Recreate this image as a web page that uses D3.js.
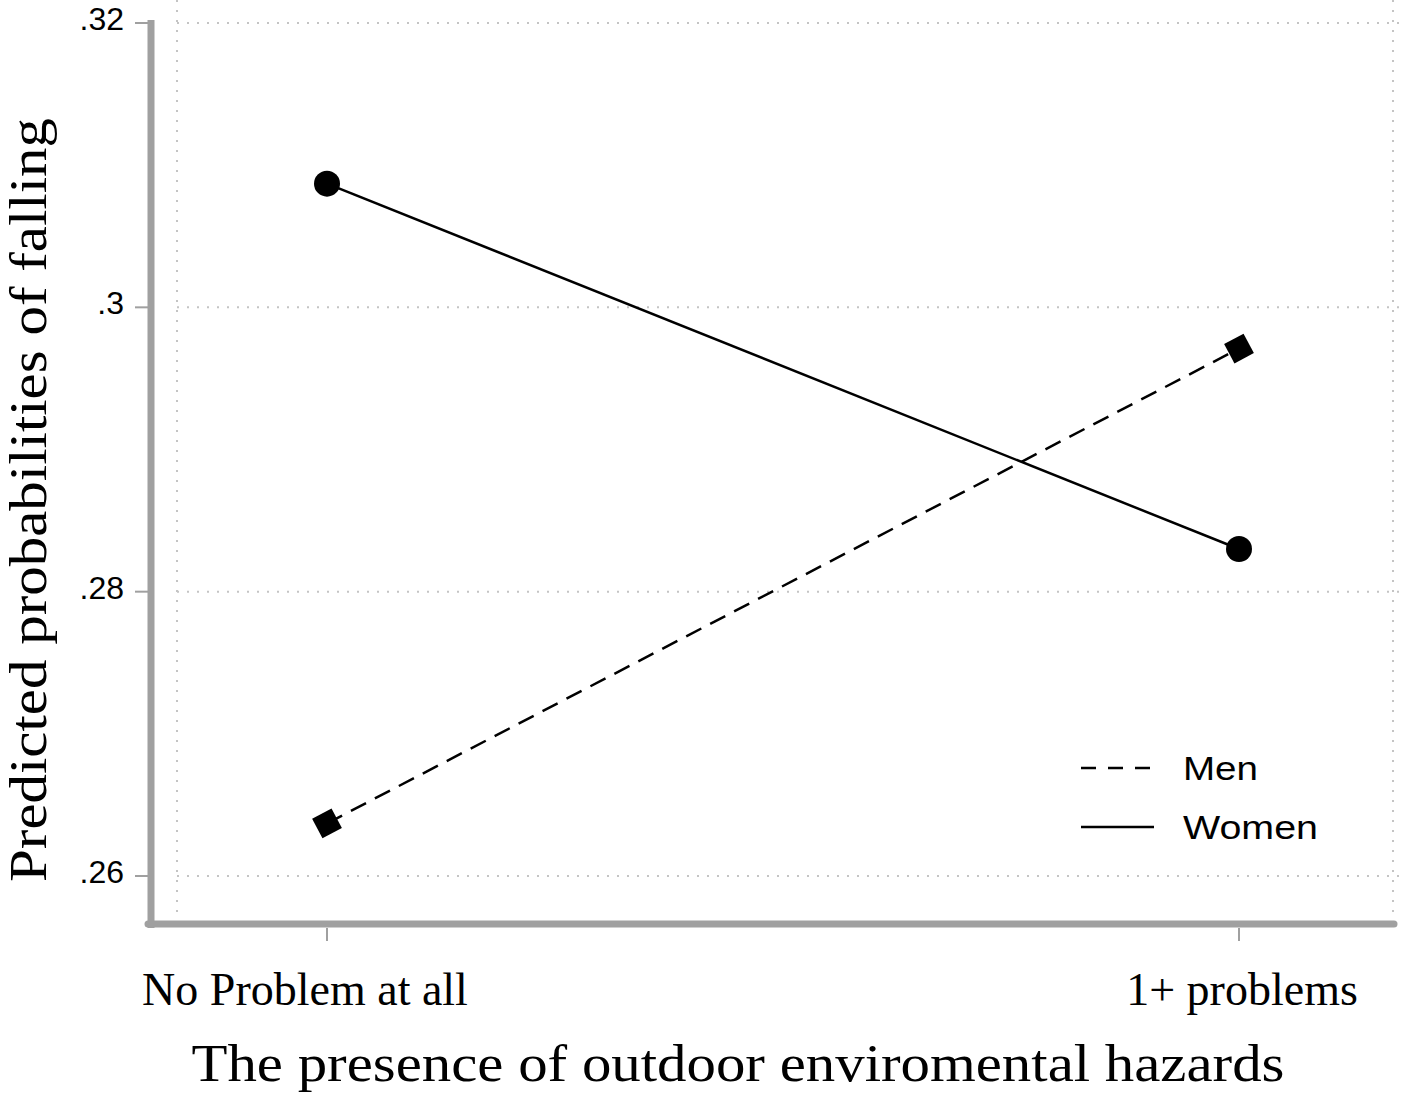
<!DOCTYPE html>
<html>
<head>
<meta charset="utf-8">
<script src="https://cdn.jsdelivr.net/npm/d3@7"></script>
<style>
  body { margin: 0; background: #fff; }
  svg { display: block; }
</style>
</head>
<body>
<div id="chart"></div>
<script>
// data
const categories = ["No Problem at all", "1+ problems"];
const menValues = [0.2637, 0.2971];
const womenValues = [0.3087, 0.2830];
const yTicks = [0.26, 0.28, 0.30, 0.32];
const yTickLabels = [".26", ".28", ".3", ".32"];

const width = 1418, height = 1096;
const axisGray = "#a0a0a0";
const gridGray = "#c4c4c4";

const svg = d3.select("#chart").append("svg")
    .attr("width", width)
    .attr("height", height);

const x = d3.scalePoint()
    .domain(categories)
    .range([327, 1239]);

const y = d3.scaleLinear()
    .domain([0.26, 0.32])
    .range([876, 23]);

// dotted grid
svg.append("g").selectAll("line.hgrid")
    .data(yTicks)
    .enter().append("line")
    .attr("x1", 177).attr("x2", 1400)
    .attr("y1", d => y(d)).attr("y2", d => y(d))
    .style("stroke", gridGray)
    .style("stroke-width", 2)
    .style("stroke-dasharray", "2,8");

svg.append("g").selectAll("line.vgrid")
    .data([177, 1393])
    .enter().append("line")
    .attr("x1", d => d).attr("x2", d => d)
    .attr("y1", 0).attr("y2", 915)
    .style("stroke", gridGray)
    .style("stroke-width", 2)
    .style("stroke-dasharray", "2,8");

// axes
svg.append("line")
    .attr("x1", 151).attr("x2", 151)
    .attr("y1", 20).attr("y2", 928)
    .style("stroke", axisGray).style("stroke-width", 7);
svg.append("line")
    .attr("x1", 148).attr("x2", 1394)
    .attr("y1", 924).attr("y2", 924)
    .style("stroke", axisGray).style("stroke-width", 7).style("stroke-linecap", "round");

// y ticks
svg.append("g").selectAll("line")
    .data(yTicks)
    .enter().append("line")
    .attr("x1", 135).attr("x2", 148)
    .attr("y1", d => y(d)).attr("y2", d => y(d))
    .style("stroke", axisGray).style("stroke-width", 2);

svg.append("g").selectAll("text")
    .data(yTicks)
    .enter().append("text")
    .attr("x", 124)
    .attr("y", d => y(d) + 7)
    .attr("text-anchor", "end")
    .style("font-family", "Liberation Sans, Arial, sans-serif")
    .style("font-size", "32px")
    .text((d, i) => yTickLabels[i]);

// x ticks
svg.append("g").selectAll("line")
    .data(categories)
    .enter().append("line")
    .attr("x1", d => x(d)).attr("x2", d => x(d))
    .attr("y1", 928).attr("y2", 941)
    .style("stroke", axisGray).style("stroke-width", 2);

const xLabelShift = [-22, 3];
svg.append("g").selectAll("text")
    .data(categories)
    .enter().append("text")
    .attr("x", (d, i) => x(d) + xLabelShift[i])
    .attr("y", 1005)
    .attr("text-anchor", "middle")
    .style("font-family", "Liberation Serif, Times New Roman, serif")
    .style("font-size", "46px")
    .text(d => d);

// axis titles
svg.append("text")
    .attr("x", 738).attr("y", 1081)
    .attr("text-anchor", "middle")
    .attr("textLength", 1093)
    .attr("lengthAdjust", "spacingAndGlyphs")
    .style("font-family", "Liberation Serif, Times New Roman, serif")
    .style("font-size", "53px")
    .text("The presence of outdoor enviromental hazards");

svg.append("text")
    .attr("transform", "translate(46,500) rotate(-90)")
    .attr("text-anchor", "middle")
    .attr("textLength", 764)
    .attr("lengthAdjust", "spacingAndGlyphs")
    .style("font-family", "Liberation Serif, Times New Roman, serif")
    .style("font-size", "52px")
    .text("Predicted probabilities of falling");

// lines
const line = d3.line()
    .x((d, i) => x(categories[i]))
    .y(d => y(d));

svg.append("path")
    .datum(womenValues)
    .attr("d", line)
    .style("fill", "none")
    .style("stroke", "#000")
    .style("stroke-width", 2.5);

svg.append("path")
    .datum(menValues)
    .attr("d", line)
    .style("fill", "none")
    .style("stroke", "#000")
    .style("stroke-width", 2.5)
    .style("stroke-dasharray", "17,10");

// markers
svg.append("g").selectAll("circle")
    .data(womenValues)
    .enter().append("circle")
    .attr("cx", (d, i) => x(categories[i]))
    .attr("cy", d => y(d))
    .attr("r", 13)
    .style("fill", "#000");

svg.append("g").selectAll("rect")
    .data(menValues)
    .enter().append("rect")
    .attr("x", -11).attr("y", -11)
    .attr("width", 22).attr("height", 22)
    .attr("transform", (d, i) => `translate(${x(categories[i])},${y(d)}) rotate(-28)`)
    .style("fill", "#000");

// legend
const legendItems = [
    { label: "Men", dash: "15,12", y: 768, len: 75 },
    { label: "Women", dash: null, y: 827, len: 135 }
];
const legend = svg.append("g");
legendItems.forEach(item => {
    legend.append("line")
        .attr("x1", 1081).attr("x2", 1154)
        .attr("y1", item.y).attr("y2", item.y)
        .style("stroke", "#000")
        .style("stroke-width", 2.5)
        .style("stroke-dasharray", item.dash);
    legend.append("text")
        .attr("x", 1183).attr("y", item.y + 12)
        .attr("textLength", item.len)
        .attr("lengthAdjust", "spacingAndGlyphs")
        .style("font-family", "Liberation Sans, Arial, sans-serif")
        .style("font-size", "33px")
        .text(item.label);
});
</script>
</body>
</html>
